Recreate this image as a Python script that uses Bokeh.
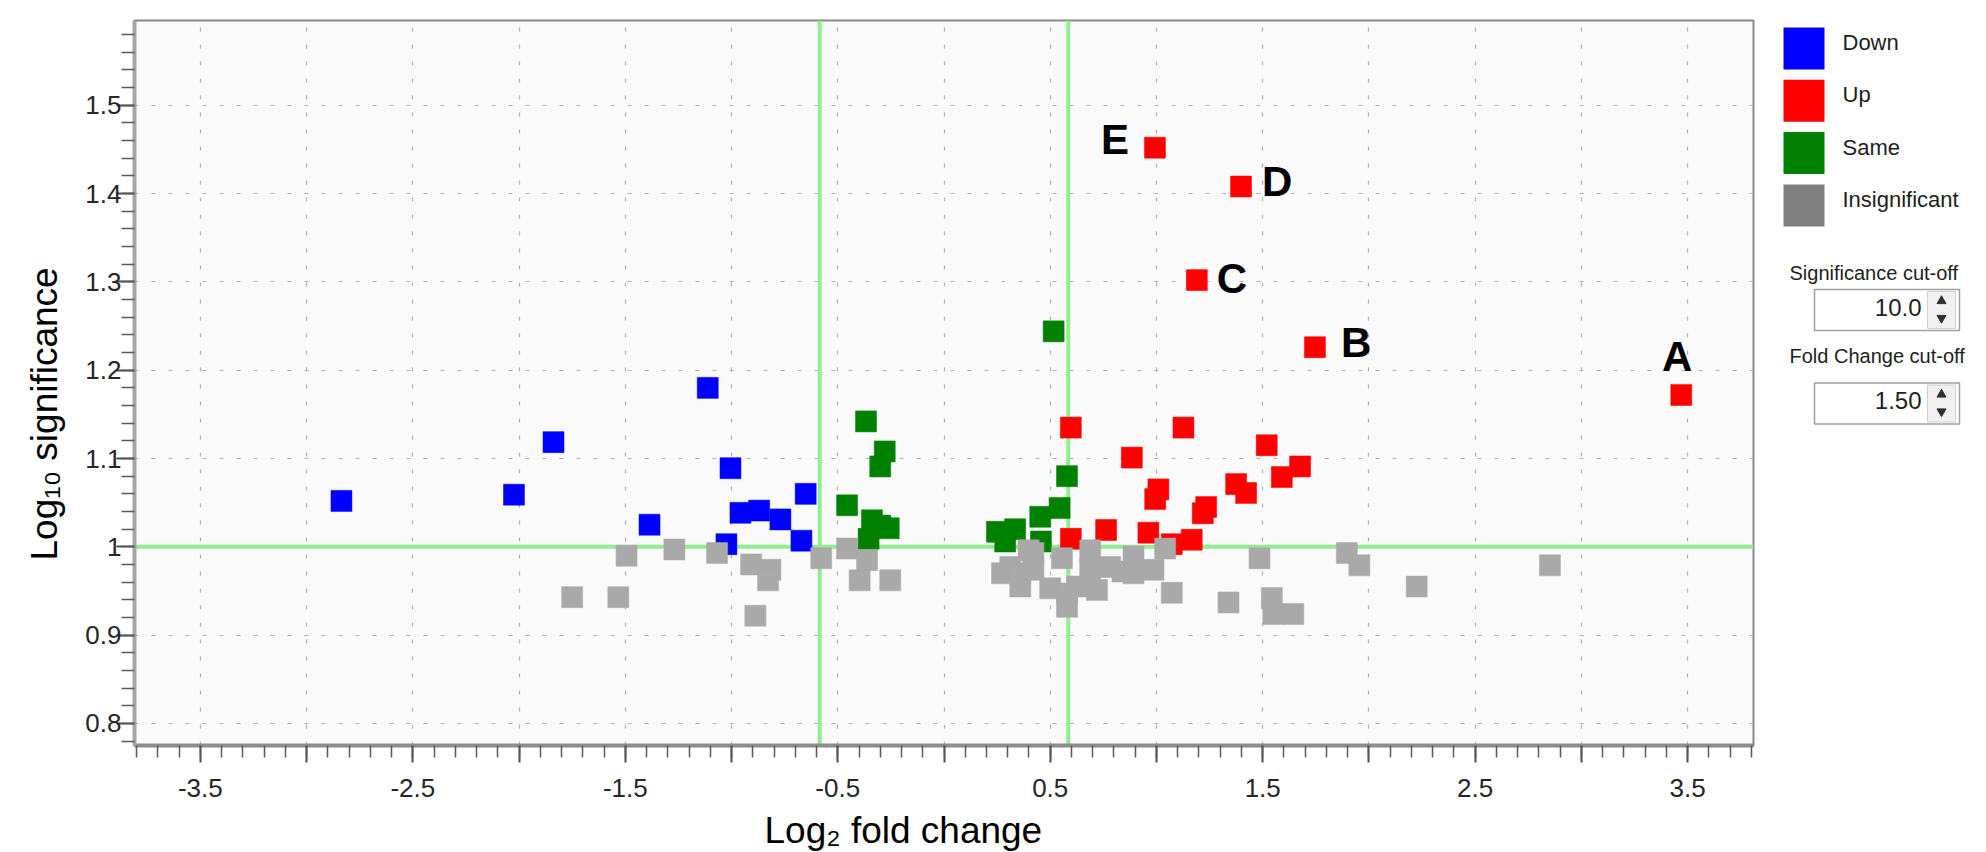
import numpy as np
from bokeh.plotting import figure
from bokeh.layouts import row, column
from bokeh.models import Range1d, FixedTicker, CustomJSTickFormatter, Span, ColumnDataSource, Title
from bokeh.core.properties import value
from bokeh.embed import file_html
from bokeh.resources import INLINE

# ---------------- data ----------------
categories = ["Down", "Up", "Same", "Insignificant"]

down_x = [-2.836, -2.024, -1.838, -1.386, -1.112, -1.005, -0.958, -0.870, -0.770, -1.024, -0.651, -0.671]
down_y = [1.052, 1.059, 1.1185, 1.025, 1.180, 1.089, 1.0385, 1.041, 1.031, 1.003, 1.060, 1.007]

up_x = [3.470, 1.746, 1.190, 1.398, 0.993, 0.597, 0.597, 0.763, 0.884, 1.127, 1.009, 0.994,
        0.962, 1.072, 1.166, 1.234, 1.218, 1.375, 1.422, 1.519, 1.590, 1.676]
up_y = [1.172, 1.226, 1.302, 1.408, 1.452, 1.135, 1.009, 1.019, 1.101, 1.135, 1.065, 1.054,
        1.016, 1.003, 1.008, 1.045, 1.038, 1.071, 1.061, 1.115, 1.079, 1.091]
up_names = ["A", "B", "C", "D", "E"]  # labels of the first five "Up" points

same_x = [0.516, -0.367, -0.279, -0.300, -0.456, -0.339, -0.300, -0.260, -0.355,
          0.579, 0.544, 0.453, 0.249, 0.335, 0.288, 0.456]
same_y = [1.244, 1.142, 1.108, 1.091, 1.047, 1.030, 1.024, 1.021, 1.009,
          1.080, 1.044, 1.034, 1.017, 1.020, 1.006, 1.006]

insig_x = [-1.750, -1.533, -1.494, -1.269, -1.068, -0.908, -0.817, -0.828, -0.888, -0.578,
           -0.456, -0.362, -0.397, -0.253,
           0.273, 0.312, 0.359, 0.359, 0.398, 0.421, 0.421, 0.500, 0.555, 0.579, 0.579,
           0.626, 0.688, 0.688, 0.720, 0.782, 0.840, 0.892, 0.892, 0.986, 1.041, 1.072,
           1.339, 1.485, 1.543, 1.550, 1.644, 1.896, 1.955, 2.225, 2.852]
insig_y = [0.943, 0.943, 0.990, 0.997, 0.993, 0.980, 0.974, 0.962, 0.922, 0.987,
           0.998, 0.985, 0.962, 0.962,
           0.970, 0.977, 0.970, 0.955, 0.996, 0.993, 0.974, 0.953, 0.987, 0.947, 0.932,
           0.955, 0.996, 0.974, 0.951, 0.977, 0.972, 0.989, 0.970, 0.974, 0.998, 0.948,
           0.937, 0.987, 0.942, 0.924, 0.924, 0.993, 0.979, 0.955, 0.979]

significance_cutoff = 10.0
fold_change_cutoff = 1.50

x_tick_values = [-3.5, -3.0, -2.5, -2.0, -1.5, -1.0, -0.5, 0.0, 0.5, 1.0, 1.5, 2.0, 2.5, 3.0, 3.5]
y_tick_values = [0.8, 0.9, 1.0, 1.1, 1.2, 1.3, 1.4, 1.5]

x_title = "Log\u2082 fold change"
y_title = "Log\u2081\u2080 significance"

# ---------------- style ----------------
FONT = "Liberation Sans"
point_colors = {"Down": "#0000ff", "Up": "#ff0000", "Same": "#008000", "Insignificant": "#a9a9a9"}
legend_colors = {"Down": "#0000ff", "Up": "#ff0000", "Same": "#008000", "Insignificant": "#808080"}

PAGE_W, PAGE_H = 1986, 852
TITLE_H = 43                      # strip under the plot that holds the x-axis title
H = PAGE_H - TITLE_H
B_LEFT, B_TOP, B_RIGHT = 134, 20, 4
FRAME_W = 1619
FRAME_TOP, FRAME_BOTTOM = 20, 745
B_BOTTOM = H - FRAME_BOTTOM
W_MAIN = B_LEFT + FRAME_W + B_RIGHT

p = figure(width=W_MAIN, height=H,
           x_range=Range1d(-3.81, 3.81), y_range=Range1d(0.775, 1.596),
           output_backend="svg", toolbar_location=None,
           min_border_left=B_LEFT, min_border_right=B_RIGHT,
           min_border_top=B_TOP, min_border_bottom=B_BOTTOM)
p.title.visible = False
p.background_fill_color = "#fafafa"
p.border_fill_color = "white"
p.outline_line_color = "#8a8a8a"
p.outline_line_width = 2

xminor = [round(v, 2) for v in np.arange(-3.8, 3.8001, 0.1)]
yminor = [round(v, 2) for v in np.arange(0.78, 1.5801, 0.02)]
p.xaxis.ticker = FixedTicker(ticks=x_tick_values, minor_ticks=xminor)
p.yaxis.ticker = FixedTicker(ticks=y_tick_values, minor_ticks=yminor)
p.xaxis.formatter = CustomJSTickFormatter(
    code="const k = Math.round(tick*2); return (Math.abs(k) % 2 == 1) ? tick.toFixed(1) : '';")
p.yaxis.formatter = CustomJSTickFormatter(code="return String(Math.round(tick*10)/10);")

for ax in (p.xaxis[0], p.yaxis[0]):
    ax.major_label_text_font = FONT
    ax.major_label_text_font_size = "26px"
    ax.major_label_text_color = "#262626"
    ax.major_tick_in = 0
    ax.minor_tick_in = 0
    ax.major_tick_line_color = "#4d4d4d"
    ax.major_tick_line_width = 2
    ax.minor_tick_line_color = "#5a5a5a"
    ax.minor_tick_line_width = 1.5

p.xaxis.major_tick_out = 17
p.xaxis.minor_tick_out = 12
p.yaxis.major_tick_out = 18
p.yaxis.minor_tick_out = 13
p.xaxis.axis_line_color = "#8c8c8c"
p.xaxis.axis_line_width = 4
p.yaxis.axis_line_color = "#a6a6a6"
p.yaxis.axis_line_width = 4
p.xaxis.major_label_standoff = 16
p.yaxis.major_label_standoff = -5

p.grid.grid_line_color = "#b3b3b3"
p.grid.grid_line_dash = "4 13"
p.grid.grid_line_width = 1.2

# y-axis title, off-centre like the original
p.add_layout(Title(text=y_title, align="left", offset=185, vertical_align="bottom", standoff=36,
                   text_font=FONT, text_font_size="37px", text_font_style="normal",
                   text_color="#000000"), "left")

fc_line = float(np.log2(fold_change_cutoff))
sig_line = float(np.log10(significance_cutoff))
for loc, dim in [(-fc_line, "height"), (fc_line, "height"), (sig_line, "width")]:
    p.add_layout(Span(location=loc, dimension=dim, line_color="#90ee90", line_width=4, level="underlay"))

series = [("Down", down_x, down_y), ("Up", up_x, up_y), ("Same", same_x, same_y),
          ("Insignificant", insig_x, insig_y)]
for name, xs, ys in series:
    c = point_colors[name]
    p.scatter(xs, ys, marker="square", size=21, fill_color=c, line_color=c, line_width=0.5)

lab_src = ColumnDataSource(dict(
    x=up_x[:5], y=up_y[:5], text=up_names,
    align=["center", "left", "left", "left", "right"],
    xo=[-4, 26, 20, 21, -26],
    yo=[-38, -5, -2, -5, -8],
))
p.text(x="x", y="y", text="text", source=lab_src, text_align="align", x_offset="xo", y_offset="yo",
       text_baseline="middle", text_font=value(FONT), text_font_style="bold",
       text_font_size="42px", text_color="#000000")

# ---------------- side panel (legend + cut-off boxes), page-pixel coordinates ----------------
W_SIDE = PAGE_W - W_MAIN
X0 = W_MAIN
p2 = figure(width=W_SIDE, height=H, x_range=Range1d(X0, X0 + W_SIDE),
            y_range=Range1d(FRAME_BOTTOM, FRAME_TOP),
            output_backend="svg", toolbar_location=None,
            min_border_left=0, min_border_right=0, min_border_top=B_TOP, min_border_bottom=B_BOTTOM,
            x_axis_location=None, y_axis_location=None)
p2.title.visible = False
p2.grid.visible = False
p2.outline_line_color = None
p2.background_fill_color = "white"
p2.border_fill_color = "white"

cy = [48 + 52.3 * i for i in range(len(categories))]
leg_src = ColumnDataSource(dict(name=categories, color=[legend_colors[c] for c in categories],
                                cy=cy, ty=[v - 6 for v in cy]))
p2.rect(x=1803.5, y="cy", width=41, height=42, fill_color="color", line_color=None, source=leg_src)
p2.text(x=1842, y="ty", text="name", source=leg_src, text_baseline="middle",
        text_font=value(FONT), text_font_size="22px", text_color="#1e1e1e")

p2.text(x=[1789, 1789], y=[272, 355], text=["Significance cut-off", "Fold Change cut-off"],
        text_baseline="middle", text_font=value(FONT), text_font_size="20px", text_color="#1e1e1e")
box_y = [309.5, 403]
p2.rect(x=[1886.5, 1886.5], y=box_y, width=145, height=41, fill_color="white",
        line_color="#a0a0a0", line_width=1.5)
p2.rect(x=[1941, 1941], y=box_y, width=28, height=37, fill_color="#f0f0f0",
        line_color="#d0d0d0", line_width=1)
p2.scatter(x=[1941, 1941], y=[v - 9 for v in box_y], marker="triangle", size=9,
           fill_color="#303030", line_color="#303030")
p2.scatter(x=[1941, 1941], y=[v + 8 for v in box_y], marker="inverted_triangle", size=9,
           fill_color="#303030", line_color="#303030")
p2.text(x=[1921, 1921], y=[v - 3 for v in box_y],
        text=[f"{significance_cutoff:.1f}", f"{fold_change_cutoff:.2f}"],
        text_align="right", text_baseline="middle", text_font=value(FONT),
        text_font_size="24px", text_color="#1e1e1e")

# ---------------- strip under the plot for the x-axis title (page-pixel coordinates) ----------------
tf = figure(width=W_MAIN, height=TITLE_H,
            x_range=Range1d(B_LEFT, B_LEFT + FRAME_W), y_range=Range1d(PAGE_H, H),
            output_backend="svg", toolbar_location=None,
            min_border_left=B_LEFT, min_border_right=B_RIGHT, min_border_top=0, min_border_bottom=0,
            x_axis_location=None, y_axis_location=None)
tf.title.visible = False
tf.grid.visible = False
tf.outline_line_color = None
tf.background_fill_color = "white"
tf.border_fill_color = "white"
tf.text(x=[764], y=[H], text=[x_title], text_baseline="top", text_align="left",
        text_font=value(FONT), text_font_size="37px", text_color="#000000")

layout = column(row(p, p2), tf)
open("out.html", "w").write(file_html(layout, INLINE, title="Volcano plot"))
